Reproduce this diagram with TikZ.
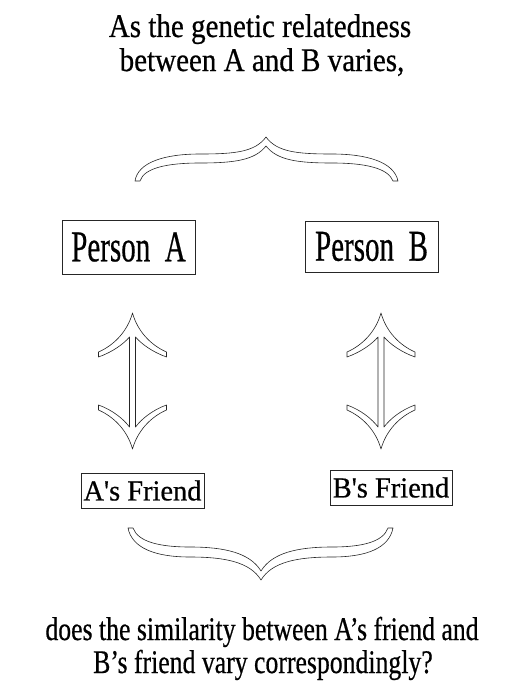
\documentclass[tikz,border=0pt]{standalone}
\usepackage{fontspec}
\setmainfont[FakeBold=0.6]{Liberation Serif}
\begin{document}
\begin{tikzpicture}[x=1pt,y=-1pt,
  outl/.style={draw=black!85,line width=0.6pt,line join=round},
  bigbox/.style={draw=black!85,line width=0.6pt,minimum width=133pt,minimum height=53pt,inner sep=0pt},
  smallbox/.style={draw=black!85,line width=0.6pt,minimum width=123pt,minimum height=35pt,inner sep=0pt},
  caption/.style={anchor=base,inner sep=0pt},
  dblarrow/.pic={
    \draw[outl] (0,-68) .. controls (5,-50) and (18,-36) .. (34,-29) -- (34,-24)
      .. controls (20,-29) and (9,-37) .. (3,-44) -- (3,46)
      .. controls (9,38) and (20,29) .. (34,24) -- (34,29)
      .. controls (18,36) and (5,50) .. (0,68)
      .. controls (-5,50) and (-18,36) .. (-34,29) -- (-34,24)
      .. controls (-20,29) and (-9,38) .. (-3,46) -- (-3,-44)
      .. controls (-9,-37) and (-20,-29) .. (-34,-24) -- (-34,-29)
      .. controls (-18,-36) and (-5,-50) .. (0,-68) -- cycle;
  }]
\useasboundingbox (0,0) rectangle (522,685);

% title
\node[caption] (t1) at (260,37) {\fontsize{33}{36}\selectfont\scalebox{0.88}[1]{As the genetic relatedness}};
\node[caption] (t2) at (262,71) {\fontsize{33}{36}\selectfont\scalebox{0.88}[1]{between A and B varies,}};

% top brace
\draw[outl] (135,181) .. controls (138,162) and (165,154) .. (200,154)
  .. controls (235,154) and (255,152) .. (266,137)
  .. controls (277,152) and (297,154) .. (332,154)
  .. controls (367,154) and (394,162) .. (398,181) -- (393,181)
  .. controls (388,168) and (365,163) .. (332,163)
  .. controls (297,163) and (277,160) .. (266,146)
  .. controls (255,160) and (235,163) .. (200,163)
  .. controls (167,163) and (144,168) .. (140,181) -- cycle;

% person boxes
\node[bigbox,minimum height=54pt] (pa) at (128.5,247) {\fontsize{44}{48}\selectfont\scalebox{0.66}[1]{Person\hspace{0.5em}A}};
\node[bigbox,minimum height=51pt] (pb) at (371.5,246.5) {\fontsize{44}{48}\selectfont\scalebox{0.66}[1]{Person\hspace{0.5em}B}};

% arrows
\pic at (132.5,381) {dblarrow};
\pic at (381,381) {dblarrow};

% friend boxes
\node[smallbox] (fa) at (142.5,490.5) {\fontsize{29}{32}\selectfont\scalebox{0.98}[1]{A\textquotesingle s Friend}};
\node[smallbox,minimum width=122pt] (fb) at (391,487.5) {\fontsize{29}{32}\selectfont\scalebox{0.98}[1]{B\textquotesingle s Friend}};

% bottom brace
\draw[outl] (128,528) .. controls (132,548) and (155,557) .. (190,557)
  .. controls (225,557) and (250,562) .. (261,580)
  .. controls (272,562) and (297,557) .. (332,557)
  .. controls (367,557) and (389,548) .. (393,528) -- (388,528)
  .. controls (383,542) and (362,547) .. (332,547)
  .. controls (297,547) and (272,553) .. (261,571)
  .. controls (250,553) and (225,547) .. (190,547)
  .. controls (160,547) and (138,542) .. (133,528) -- cycle;

% bottom text
\node[caption] (b1) at (262,640) {\fontsize{33}{36}\selectfont\scalebox{0.78}[1]{does the similarity between A’s friend and}};
\node[caption] (b2) at (263,673) {\fontsize{33}{36}\selectfont\scalebox{0.78}[1]{B’s friend vary correspondingly?}};
\end{tikzpicture}
\end{document}
